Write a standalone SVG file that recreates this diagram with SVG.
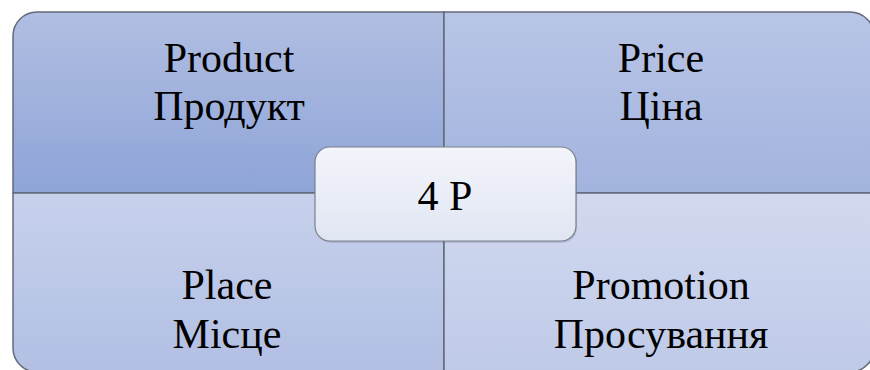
<svg xmlns="http://www.w3.org/2000/svg" width="870" height="370" viewBox="0 0 870 370">
  <defs>
    <linearGradient id="gTL" x1="0" y1="0" x2="0" y2="1">
      <stop offset="0" stop-color="#b1bee2"/>
      <stop offset="1" stop-color="#8ea4d7"/>
    </linearGradient>
    <linearGradient id="gTR" x1="0" y1="0" x2="0" y2="1">
      <stop offset="0" stop-color="#b9c5e6"/>
      <stop offset="1" stop-color="#a2b3de"/>
    </linearGradient>
    <linearGradient id="gBL" x1="0" y1="0" x2="0" y2="1">
      <stop offset="0" stop-color="#c7d1ec"/>
      <stop offset="1" stop-color="#b2bfe3"/>
    </linearGradient>
    <linearGradient id="gBR" x1="0" y1="0" x2="0" y2="1">
      <stop offset="0" stop-color="#d1d9ef"/>
      <stop offset="1" stop-color="#bfcae8"/>
    </linearGradient>
    <linearGradient id="gC" x1="0" y1="0" x2="0" y2="1">
      <stop offset="0" stop-color="#f3f5fb"/>
      <stop offset="1" stop-color="#e0e5f2"/>
    </linearGradient>
  </defs>
  <style>
    .quad { stroke: #626a7b; stroke-width: 1.5; }
    .label { font-family: "Liberation Serif", "Times New Roman", serif; font-size: 42px; fill: #000; text-anchor: middle; }
    .center-box { fill: url(#gC); stroke: #7b808c; stroke-width: 1.2; }
  </style>

  <!-- four quadrants of the matrix -->
  <g id="product">
    <path class="quad" fill="url(#gTL)" d="M13,193 V36 A24,24 0 0 1 37,12 H444 V193 Z"/>
    <text class="label" x="229" y="72">Product</text>
    <text class="label" x="229" y="120">Продукт</text>
  </g>
  <g id="price">
    <path class="quad" fill="url(#gTR)" d="M444,12 H850 A24,24 0 0 1 874,36 V193 H444 Z"/>
    <text class="label" x="661" y="72">Price</text>
    <text class="label" x="661" y="120">Ціна</text>
  </g>
  <g id="place">
    <path class="quad" fill="url(#gBL)" d="M13,193 H444 V372 H37 A24,24 0 0 1 13,348 Z"/>
    <text class="label" x="227" y="299">Place</text>
    <text class="label" x="227" y="348">Місце</text>
  </g>
  <g id="promotion">
    <path class="quad" fill="url(#gBR)" d="M444,193 H874 V348 A24,24 0 0 1 850,372 H444 Z"/>
    <text class="label" x="661" y="299">Promotion</text>
    <text class="label" x="661" y="348">Просування</text>
  </g>

  <!-- central node -->
  <g id="four-p">
    <rect x="316" y="149" width="261" height="94" rx="15" fill="#3a4560" opacity="0.18"/>
    <rect class="center-box" x="315" y="147" width="261" height="94" rx="15"/>
    <text class="label" x="445" y="210">4 P</text>
  </g>

  <g id="connectors"/>
</svg>
